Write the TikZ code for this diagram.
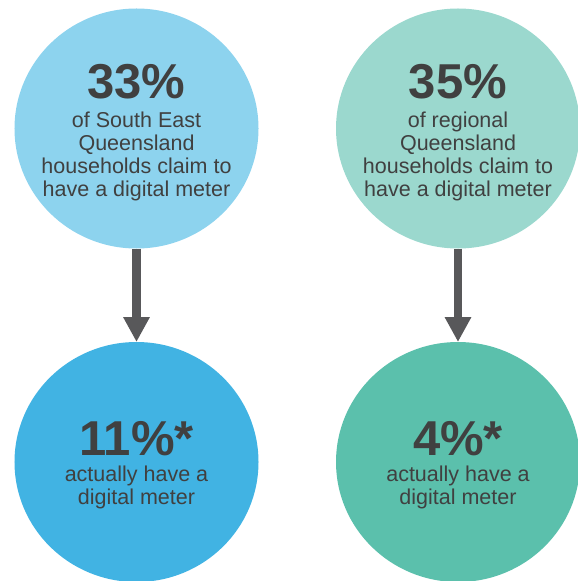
\documentclass[tikz,border=0pt]{standalone}
\usepackage{fontspec}
\setmainfont{Liberation Sans}
\usepackage{xcolor}
\usepackage{tikz}
\usetikzlibrary{arrows.meta}
\usetikzlibrary{shapes.geometric}
\usetikzlibrary{positioning}
\definecolor{seq_light}{HTML}{8DD3EE}
\definecolor{reg_light}{HTML}{9BD8CE}
\definecolor{seq_dark}{HTML}{41B3E3}
\definecolor{reg_dark}{HTML}{5BC0AC}
\definecolor{text_gray}{HTML}{404040}
\definecolor{arrow_gray}{HTML}{58585A}
\tikzset{
    tnode/.style = {align=center, inner sep=0pt, outer sep=0pt, text centered},
    disc/.style = {tnode, ellipse, minimum width=244bp, minimum height=240bp},
    seq_top/.style = {disc, fill=seq_light},
    reg_top/.style = {disc, fill=reg_light},
    seq_bottom/.style = {disc, fill=seq_dark},
    reg_bottom/.style = {disc, fill=reg_dark},
    pct/.style = {tnode, text=text_gray, font=\fontsize{49bp}{49bp}\selectfont\bfseries, anchor=base},
    desc/.style = {tnode, text=text_gray, font=\fontsize{21.5bp}{22.7bp}\selectfont, anchor=base},
    down_arrow/.style = {draw=arrow_gray, line width=8.5bp, -{Triangle[width=25bp,length=25bp]}}
}

\begin{document}
\begin{tikzpicture}[x=1bp, y=-1bp]
    \useasboundingbox (0,0) rectangle (578,581);

    \node[seq_top] (seq) at (136.5,128.5) {};
    \node[reg_top, right=77.5bp of seq] (reg) {};
    \node[seq_bottom, below=93.5bp of seq] (seq_act) {};
    \node[reg_bottom, below=93.5bp of reg] (reg_act) {};

    \node[pct] (seq_pct) at ([yshift=30bp]seq.center) {33\%};
    \node[desc] (seq_txt) at ([yshift=-67.5bp]seq.center)
        {of South East\\Queensland\\households claim to\\have a digital meter};
    \node[pct] (reg_pct) at ([yshift=30bp]reg.center) {35\%};
    \node[desc] (reg_txt) at ([yshift=-67.5bp]reg.center)
        {of regional\\Queensland\\households claim to\\have a digital meter};

    \node[pct] (seq_act_pct) at ([yshift=7bp]seq_act.center) {11\%*};
    \node[desc] (seq_act_txt) at ([yshift=-42bp]seq_act.center)
        {actually have a\\digital meter};
    \node[pct] (reg_act_pct) at ([yshift=7bp]reg_act.center) {4\%*};
    \node[desc] (reg_act_txt) at ([yshift=-42bp]reg_act.center)
        {actually have a\\digital meter};

    \draw[down_arrow] (seq) -- (seq_act);
    \draw[down_arrow] (reg) -- (reg_act);
\end{tikzpicture}
\end{document}
